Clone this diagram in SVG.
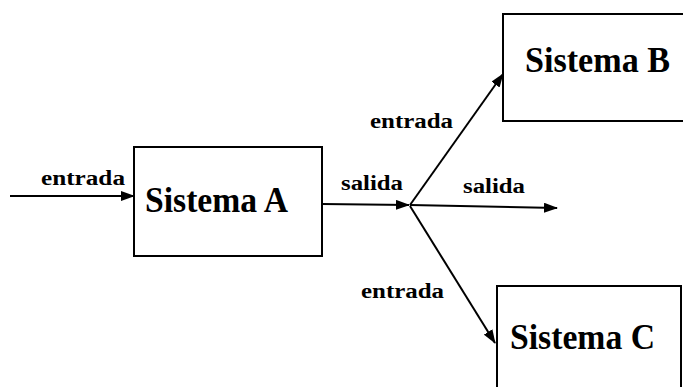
<svg xmlns="http://www.w3.org/2000/svg" width="683" height="387" viewBox="0 0 683 387">
<defs>
<marker id="ah" markerWidth="14" markerHeight="10" refX="13" refY="5" orient="auto" markerUnits="userSpaceOnUse">
<path d="M0,0 L14,5 L0,10 z" fill="#000"/>
</marker>
<style>
.box{fill:#fff;stroke:#000;stroke-width:2}
.big{font-family:"Liberation Serif",serif;font-weight:bold;font-size:35px;fill:#000}
.lbl{font-family:"Liberation Serif",serif;font-weight:bold;font-size:20px;fill:#000}
.ln{stroke:#000;stroke-width:2;fill:none;marker-end:url(#ah)}
</style>
</defs>
<rect width="683" height="387" fill="#fff"/>
<g id="sistemaA">
<rect class="box" x="134" y="147" width="188" height="109"/>
<text class="big" x="145" y="212" textLength="143" lengthAdjust="spacingAndGlyphs">Sistema A</text>
</g>
<g id="sistemaB">
<rect class="box" x="503" y="14" width="200" height="107"/>
<text class="big" x="525" y="72" textLength="145" lengthAdjust="spacingAndGlyphs">Sistema B</text>
</g>
<g id="sistemaC">
<rect class="box" x="497" y="286" width="184" height="110"/>
<text class="big" x="510" y="349" textLength="145" lengthAdjust="spacingAndGlyphs">Sistema C</text>
</g>
<g id="connectors">
<line class="ln" x1="10" y1="196" x2="134" y2="196"/>
<line class="ln" x1="322" y1="204" x2="409" y2="205"/>
<line class="ln" x1="410" y1="205" x2="557" y2="208"/>
<line class="ln" x1="410" y1="205" x2="503" y2="74"/>
<line class="ln" x1="410" y1="206" x2="495" y2="343"/>
</g>
<g id="labels">
<text class="lbl" x="41" y="185" textLength="84" lengthAdjust="spacingAndGlyphs">entrada</text>
<text class="lbl" x="341" y="190" textLength="62" lengthAdjust="spacingAndGlyphs">salida</text>
<text class="lbl" x="463" y="193" textLength="62" lengthAdjust="spacingAndGlyphs">salida</text>
<text class="lbl" x="370" y="128" textLength="83" lengthAdjust="spacingAndGlyphs">entrada</text>
<text class="lbl" x="361" y="298" textLength="83" lengthAdjust="spacingAndGlyphs">entrada</text>
</g>
</svg>
